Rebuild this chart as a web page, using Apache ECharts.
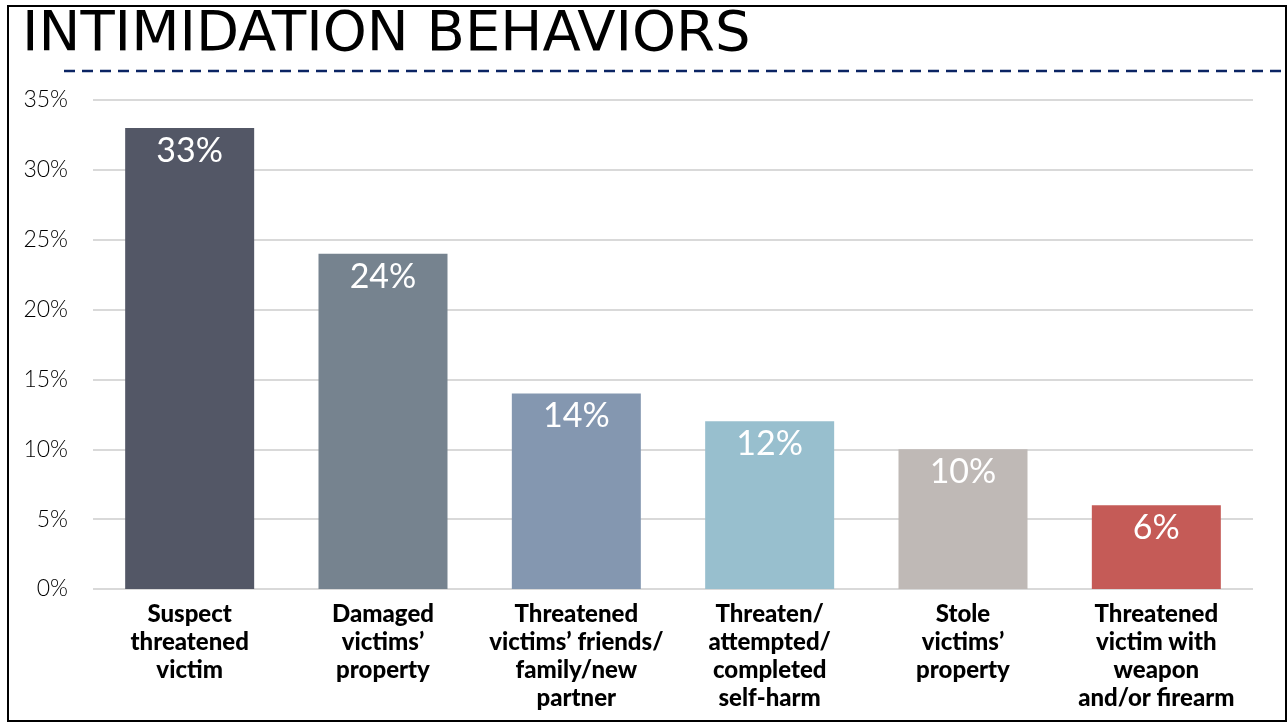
<!DOCTYPE html>
<html>
<head>
<meta charset="utf-8">
<style>
  html, body { margin: 0; padding: 0; background: #fff; }
  #chart { width: 1288px; height: 724px; }
</style>
<script src="https://cdn.jsdelivr.net/npm/echarts@6/dist/echarts.min.js"></script>
</head>
<body>
<div id="chart"></div>
<script>
var categories = [
  'Suspect\nthreatened\nvictim',
  'Damaged\nvictims\u2019\nproperty',
  'Threatened\nvictims\u2019 friends/\nfamily/new\npartner',
  'Threaten/\nattempted/\ncompleted\nself-harm',
  'Stole\nvictims\u2019\nproperty',
  'Threatened\nvictim with\nweapon\nand/or firearm'
];
var values = [33, 24, 14, 12, 10, 6];
var barColors = ['#535766', '#76838f', '#8497b0', '#98bfce', '#bfb9b6', '#c55b57'];

var chart = echarts.init(document.getElementById('chart'));

var option = {
  animation: false,
  title: {
    text: 'INTIMIDATION BEHAVIORS',
    left: 17,
    top: 2,
    textStyle: {
      fontFamily: 'DejaVu Sans',
      fontWeight: 'normal',
      fontSize: 56,
      color: '#000'
    }
  },
  graphic: [
    {
      type: 'rect',
      shape: { x: 8, y: 6, width: 1278, height: 715 },
      style: { fill: 'none', stroke: '#000', lineWidth: 2 },
      silent: true
    },
    {
      type: 'line',
      shape: { x1: 64, y1: 71, x2: 1286, y2: 71 },
      style: { stroke: '#0b2463', lineWidth: 2.5, lineDash: [11, 7] },
      silent: true
    }
  ],
  grid: {
    left: 93,
    right: 35,
    top: 100,
    bottom: 135
  },
  xAxis: {
    type: 'category',
    data: categories,
    axisLine: { show: false },
    axisTick: { show: false },
    axisLabel: {
      interval: 0,
      margin: 11,
      fontFamily: 'Lato',
      fontWeight: 900,
      fontSize: 24,
      lineHeight: 28,
      color: '#000',
      verticalAlign: 'top'
    }
  },
  yAxis: {
    type: 'value',
    min: 0,
    max: 35,
    interval: 5,
    axisLine: { show: false },
    axisTick: { show: false },
    axisLabel: {
      margin: 25,
      fontFamily: 'Lato',
      fontWeight: 300,
      fontSize: 23,
      color: '#000',
      formatter: '{value}%'
    },
    splitLine: {
      lineStyle: { color: '#d9d9d9', width: 2 }
    }
  },
  series: [
    {
      type: 'bar',
      data: values.map(function (v, i) {
        return { value: v, itemStyle: { color: barColors[i] } };
      }),
      barWidth: 129,
      label: {
        show: true,
        position: 'insideTop',
        distance: 6,
        fontFamily: 'Lato',
        fontSize: 34,
        color: '#fff',
        formatter: '{c}%'
      }
    }
  ]
};

chart.setOption(option);
</script>
</body>
</html>
